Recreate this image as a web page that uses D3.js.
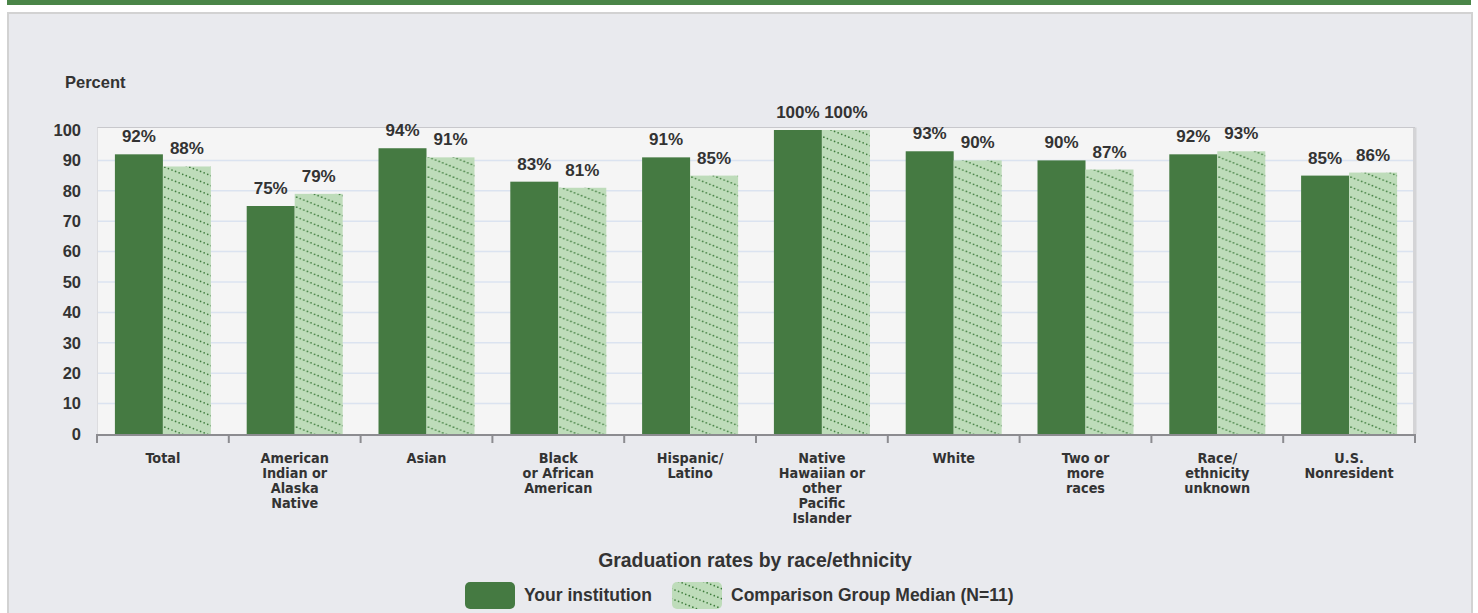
<!DOCTYPE html>
<html><head><meta charset="utf-8">
<script src="https://cdn.jsdelivr.net/npm/d3@7"></script>
<style>
html,body{margin:0;padding:0;background:#fff;}
svg{display:block;}
</style></head>
<body>
<svg id="chart" width="1478" height="613"></svg>
<script>
const categories = ["Total","American Indian or Alaska Native","Asian","Black or African American","Hispanic/ Latino","Native Hawaiian or other Pacific Islander","White","Two or more races","Race/ ethnicity unknown","U.S. Nonresident"];
const categoryLines = [["Total"],["American","Indian or","Alaska","Native"],["Asian"],["Black","or African","American"],["Hispanic/","Latino"],["Native","Hawaiian or","other","Pacific","Islander"],["White"],["Two or","more","races"],["Race/","ethnicity","unknown"],["U.S.","Nonresident"]];
const seriesNames = ["Your institution","Comparison Group Median (N=11)"];
const institution = [92,75,94,83,91,100,93,90,92,85];
const comparison = [88,79,91,81,85,100,90,87,93,86];
const yTicks = [0,10,20,30,40,50,60,70,80,90,100];

const svg = d3.select("#chart");
const darkGreen = "#457a42", lightGreen = "#bedcba", dotGreen = "#3f7d3d";
const txt = "#333";
const arial = "'Liberation Sans', Arial, sans-serif";
const tahoma = "'DejaVu Sans Condensed','DejaVu Sans',Verdana,sans-serif";

// pattern
const defs = svg.append("defs");
const pat = defs.append("pattern").attr("id","hatch").attr("patternUnits","userSpaceOnUse")
  .attr("width",25).attr("height",10);
pat.append("rect").attr("width",25).attr("height",10).attr("fill",lightGreen);
const nd = 7;
for (let i=0;i<nd;i++){
  const px = i*25/nd, py = i*10/nd;
  for (const dx of [-25,0,25]) for (const dy of [-10,0,10]) {
    pat.append("circle").attr("cx",px+dx).attr("cy",py+dy).attr("r",0.85).attr("fill",dotGreen);
  }
}

// background
svg.append("rect").attr("x",7).attr("y",0).attr("width",1464).attr("height",5).attr("fill","#4a8548");
svg.append("rect").attr("x",8).attr("y",13).attr("width",1464).attr("height",620)
  .attr("fill","#e9eaee").attr("stroke","#d2d2d2").attr("stroke-width",2);

const x0 = 97, x1r = 1415;
const x = d3.scaleBand().domain(categories).range([x0,x1r]).paddingInner(0).paddingOuter(0);
const xs = d3.scaleBand().domain(seriesNames).range([0,x.bandwidth()]).paddingInner(0).paddingOuter(0.373);
const y = d3.scaleLinear().domain([0,100]).range([434,130]);

// plot area
const plotTop = y(100)-2.5;
svg.append("rect").attr("x",x1r-2).attr("y",plotTop).attr("width",3.5).attr("height",y(0)-plotTop).attr("fill","#d4d4d6");
svg.append("rect").attr("x",x0).attr("y",plotTop).attr("width",x1r-2-x0).attr("height",y(0)-plotTop)
  .attr("fill","#f5f5f5");
svg.append("line").attr("x1",x0).attr("x2",x1r).attr("y1",plotTop).attr("y2",plotTop).attr("stroke","#c8c8cc").attr("stroke-width",1.2);
svg.append("line").attr("x1",x0+0.5).attr("x2",x0+0.5).attr("y1",plotTop).attr("y2",y(0)).attr("stroke","#dcdcdf").attr("stroke-width",1);

// gridlines
svg.append("g").selectAll("line").data(yTicks.filter(d=>d>0&&d<100)).join("line")
  .attr("x1",x0+1).attr("x2",x1r-2).attr("y1",d=>y(d)).attr("y2",d=>y(d))
  .attr("stroke","#dbe3f0").attr("stroke-width",1.5);

// y axis labels
const yAxis = d3.axisLeft(y).tickValues(yTicks).tickSize(0).tickPadding(16).tickFormat(d3.format("d"));
const gy = svg.append("g").attr("transform",`translate(${x0},0)`).call(yAxis);
gy.select(".domain").remove();
gy.selectAll("text").attr("font-family",arial).attr("font-weight","bold").attr("font-size",16.5).attr("fill",txt);

svg.append("text").attr("x",65).attr("y",88).text("Percent")
  .attr("font-family",arial).attr("font-weight","bold").attr("font-size",16.5).attr("fill",txt);

// bars
const data = categories.map((c,i)=>({c, vals:[{s:seriesNames[0],v:institution[i]},{s:seriesNames[1],v:comparison[i]}]}));
const groups = svg.append("g").selectAll("g").data(data).join("g")
  .attr("transform",d=>`translate(${x(d.c)},0)`);
groups.selectAll("rect").data(d=>d.vals).join("rect")
  .attr("x",d=>xs(d.s)).attr("width",xs.bandwidth())
  .attr("y",d=>y(d.v)).attr("height",d=>y(0)-y(d.v))
  .attr("fill",(d,i)=>i===0?darkGreen:"url(#hatch)");
groups.selectAll("text").data(d=>d.vals).join("text")
  .attr("x",d=>xs(d.s)+xs.bandwidth()/2).attr("y",d=>y(d.v)-12)
  .attr("text-anchor","middle").text(d=>d.v+"%")
  .attr("font-family",arial).attr("font-weight","bold").attr("font-size",17).attr("fill",txt);

// x axis
svg.append("line").attr("x1",x0).attr("x2",x1r).attr("y1",y(0)+1).attr("y2",y(0)+1).attr("stroke","#8c8c90").attr("stroke-width",2);
const bounds = categories.map(c=>x(c)).concat([x1r]);
svg.append("g").selectAll("line").data(bounds).join("line")
  .attr("x1",d=>d).attr("x2",d=>d).attr("y1",y(0)).attr("y2",y(0)+9)
  .attr("stroke","#8c8c90").attr("stroke-width",2);

const lab = svg.append("g").selectAll("text").data(categories).join("text")
  .attr("x",c=>x(c)+x.bandwidth()/2).attr("y",462.5)
  .attr("text-anchor","middle").attr("font-family",tahoma).attr("font-weight","bold")
  .attr("font-size",14.3).attr("fill",txt);
lab.each(function(c,i){
  d3.select(this).selectAll("tspan").data(categoryLines[i]).join("tspan")
    .attr("x",x(c)+x.bandwidth()/2).attr("dy",(d,j)=>j===0?0:15.2).text(d=>d);
});

// title & legend
svg.append("text").attr("x",755).attr("y",567).attr("text-anchor","middle")
  .text("Graduation rates by race/ethnicity")
  .attr("font-family",arial).attr("font-weight","bold").attr("font-size",19.4).attr("fill",txt);

const legend = [{name:seriesNames[0],fill:darkGreen,x:465},{name:seriesNames[1],fill:"url(#hatch)",x:672}];
const lg = svg.append("g").selectAll("g").data(legend).join("g");
lg.append("rect").attr("x",d=>d.x).attr("y",582).attr("width",50).attr("height",27).attr("rx",5)
  .attr("fill",d=>d.fill);
lg.append("text").attr("x",d=>d.x+59).attr("y",601).text(d=>d.name)
  .attr("font-family",arial).attr("font-weight","bold").attr("font-size",17.5).attr("fill",txt);
</script>
</body></html>
